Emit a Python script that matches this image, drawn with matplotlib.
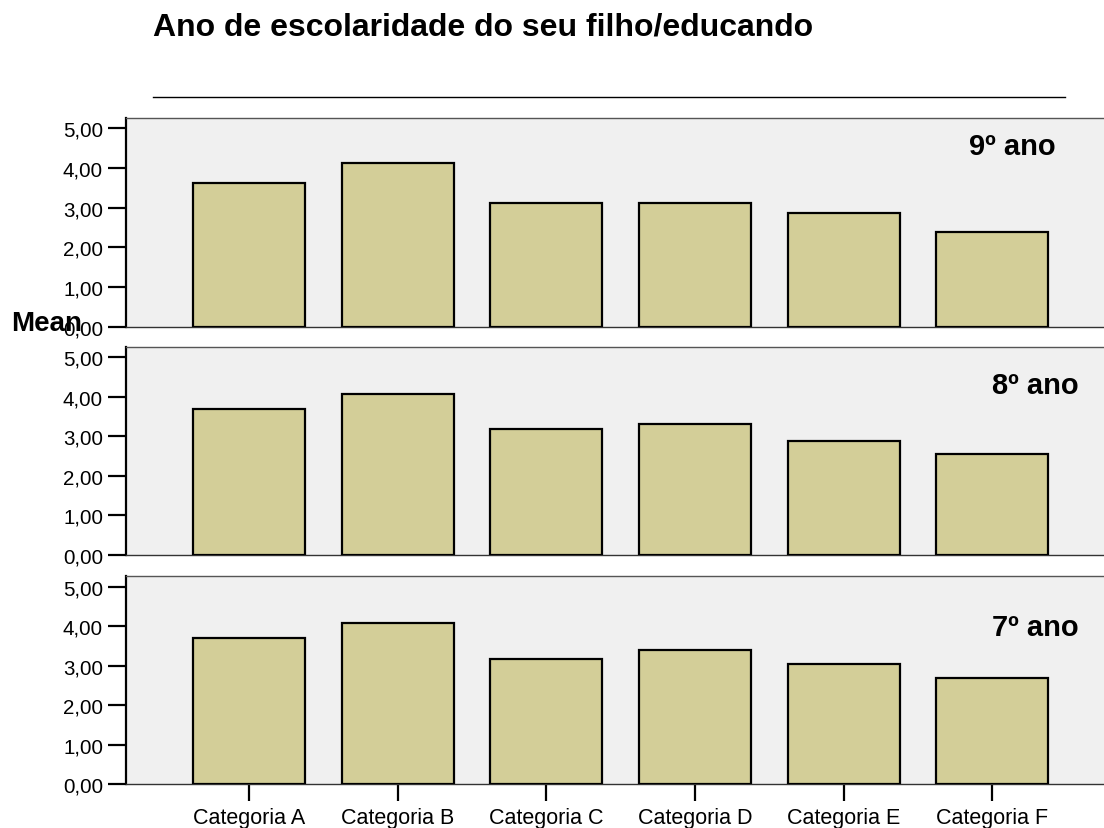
import matplotlib
matplotlib.use('Agg')
import matplotlib.pyplot as plt
from matplotlib.lines import Line2D

plt.rcParams['font.family'] = ['Liberation Sans', 'DejaVu Sans']

categories = ['Categoria A', 'Categoria B', 'Categoria C',
              'Categoria D', 'Categoria E', 'Categoria F']
panel_labels = ['9º ano', '8º ano', '7º ano']
mean_9 = [3.61, 4.12, 3.13, 3.13, 2.86, 2.39]
mean_8 = [3.68, 4.08, 3.19, 3.30, 2.89, 2.55]
mean_7 = [3.71, 4.08, 3.17, 3.40, 3.03, 2.68]
y_ticks = [0, 1, 2, 3, 4, 5]

BAR_COLOR = '#d3ce98'
BG_COLOR = '#f0f0f0'

fig = plt.figure(figsize=(11.04, 8.29), dpi=100)

# panel geometry in figure fractions (top -> bottom)
left, width = 126 / 1104, 978 / 1104
panels = [
    (501.3 / 829, 208.7 / 829, mean_9, (0.951, 0.866)),
    (273.3 / 829, 207.7 / 829, mean_8, (0.974, 0.819)),
    (44.0 / 829, 207.7 / 829, mean_7, (0.974, 0.756)),
]

x = list(range(len(categories)))
for i, ((bottom, height, vals, lab_pos), lab) in enumerate(zip(panels, panel_labels)):
    ax = fig.add_axes([left, bottom, width, height])
    ax.set_facecolor(BG_COLOR)
    ax.bar(x, vals, width=0.753, color=BAR_COLOR, edgecolor='black',
           linewidth=1.6, zorder=3)
    ax.set_xlim(-0.827, 5.75)
    ax.set_ylim(0, 5.26)
    ax.set_yticks(y_ticks)
    ax.set_yticklabels([f'{v:.2f}'.replace('.', ',') for v in y_ticks],
                       fontsize=14.8)
    ax.tick_params(axis='y', length=13, width=1.6, pad=3.5, color='black')
    ax.spines['right'].set_visible(False)
    ax.spines['left'].set_linewidth(1.6)
    ax.spines['left'].set_color('black')
    ax.spines['top'].set_color('#555555')
    ax.spines['top'].set_linewidth(1.0)
    ax.spines['bottom'].set_color('#333333')
    ax.spines['bottom'].set_linewidth(1.0)
    ax.set_xticks(x)
    if i == 2:
        ax.set_xticklabels(categories, fontsize=15.5)
        ax.tick_params(axis='x', length=12, width=1.6, pad=4.5, color='black')
    else:
        ax.tick_params(axis='x', length=0, labelbottom=False)
    ax.text(lab_pos[0], lab_pos[1], lab, transform=ax.transAxes,
            ha='right', va='center', fontsize=21, fontweight='bold')

fig.text(11 / 1104, 1 - 330.7 / 829, 'Mean', fontsize=20, fontweight='bold',
         ha='left', va='baseline', zorder=5)

fig.text(153 / 1104, 1 - 36 / 829, 'Ano de escolaridade do seu filho/educando',
         fontsize=23, fontweight='bold', ha='left', va='baseline')

fig.add_artist(Line2D([153 / 1104, 1065 / 1104], [1 - 98 / 829, 1 - 98 / 829],
                      color='black', linewidth=1.0, transform=fig.transFigure))

fig.savefig('out.png', dpi=100, facecolor='white')
